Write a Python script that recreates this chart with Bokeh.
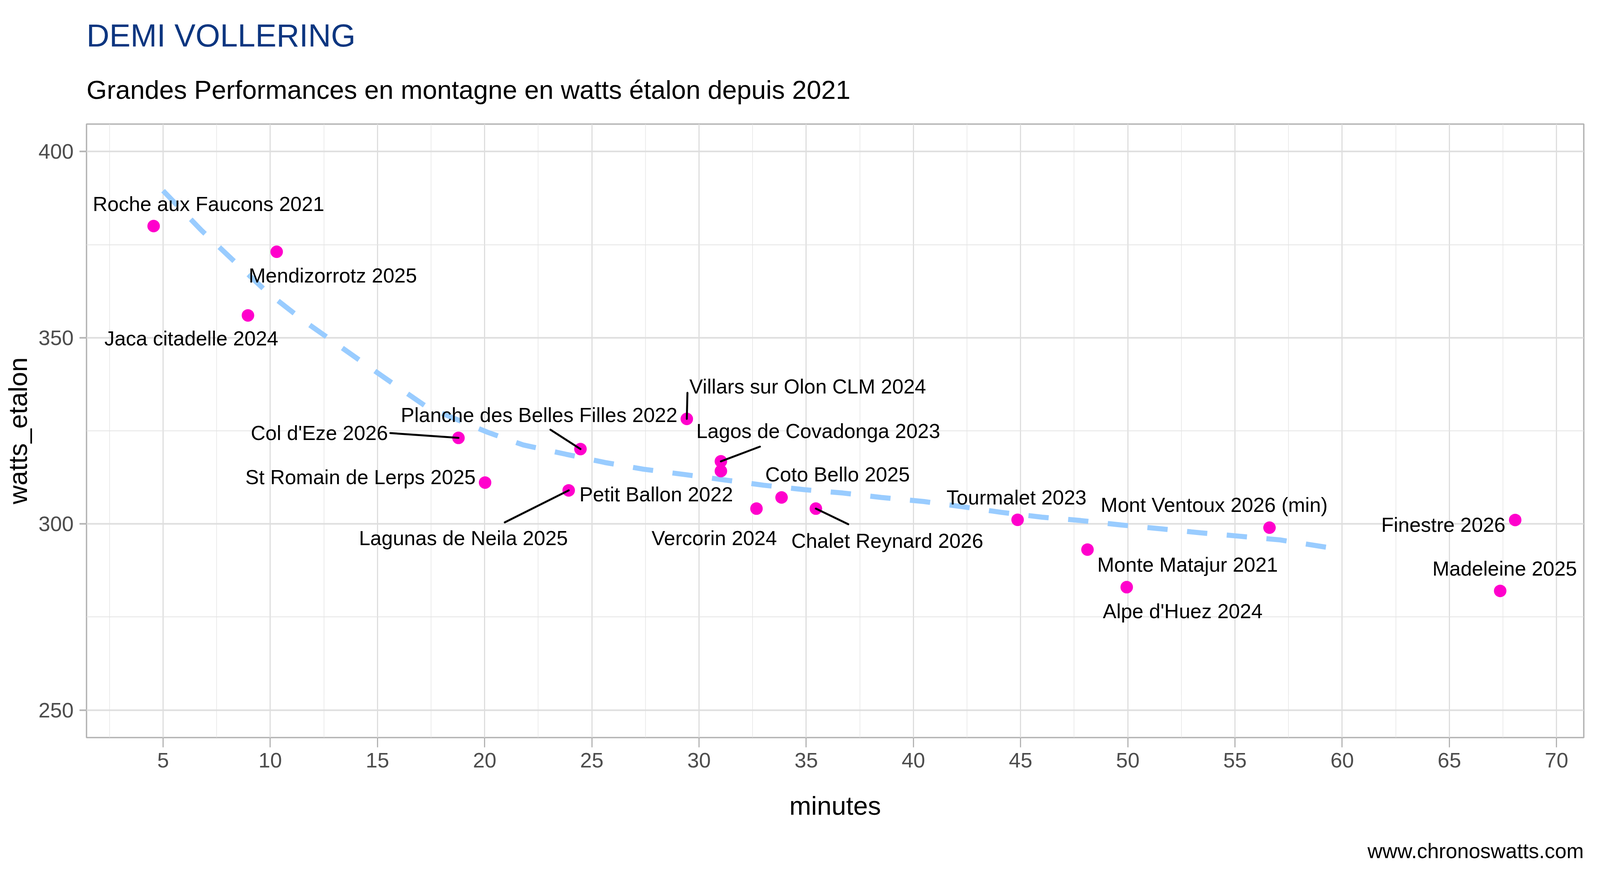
from bokeh.plotting import figure
from bokeh.models import Range1d, FixedTicker, Title, ColumnDataSource
from bokeh.core.properties import value
from bokeh.embed import file_html
from bokeh.resources import INLINE

FONT = "Liberation Sans"

# ---- data ----
names = ["Roche aux Faucons 2021", "Mendizorrotz 2025", "Jaca citadelle 2024",
         "Col d'Eze 2026", "St Romain de Lerps 2025", "Planche des Belles Filles 2022",
         "Lagunas de Neila 2025", "Villars sur Olon CLM 2024", "Lagos de Covadonga 2023",
         "Petit Ballon 2022", "Vercorin 2024", "Coto Bello 2025", "Chalet Reynard 2026",
         "Tourmalet 2023", "Monte Matajur 2021", "Alpe d'Huez 2024",
         "Mont Ventoux 2026 (min)", "Finestre 2026", "Madeleine 2025"]
minutes = [4.56, 10.30, 8.96, 18.78, 20.02, 24.47, 23.92, 29.43, 31.02, 31.02,
           32.68, 33.85, 35.45, 44.86, 48.12, 49.95, 56.61, 68.07, 67.37]
watts = [380.0, 373.1, 356.0, 323.1, 311.1, 320.1, 309.0, 328.2, 316.8, 314.2,
         304.1, 307.1, 304.1, 301.1, 293.1, 283.0, 299.0, 301.05, 282.0]

# repelled label positions (data units)
label_x = [7.12, 12.92, 6.32, 12.29, 14.21, 22.54, 19.01, 35.07, 35.56, 28.0,
           30.71, 36.46, 38.78, 44.81, 52.79, 52.56, 54.03, 64.72, 67.58]
label_y = [385.95, 366.7, 349.8, 324.4, 312.6, 329.3, 296.2, 336.95, 324.9, 307.9,
           296.2, 313.3, 295.5, 307.1, 289.1, 276.6, 305.1, 299.8, 288.05]
# leader segment ends on the label side (None = no segment)
seg_x = [None, None, None, 15.60, None, 23.07, 20.94, 29.46, 32.84, None,
         None, None, 36.96, None, None, None, None, None, None]
seg_y = [None, None, None, 324.4, None, 325.3, 300.4, 335.2, 320.75, None,
         None, None, 299.9, None, None, None, None, None, None]

# dashed trend curve, read along its length
trend_x = [5.0, 6.8, 8.4, 9.9, 11.6, 14.9, 17.3, 20.1, 21.8, 23.8, 25.6, 27.4,
           29.4, 31.2, 33.0, 34.9, 36.7, 38.5, 40.5, 42.3, 44.1, 46.0, 47.8,
           49.7, 51.5, 53.4, 55.2, 57.1, 59.4]
trend_y = [389.5, 378.8, 370.1, 362.0, 354.4, 341.0, 331.4, 324.7, 321.2, 318.7,
           316.5, 314.7, 313.2, 311.8, 310.4, 309.2, 308.3, 307.1, 306.0, 304.6,
           303.1, 301.8, 300.9, 299.7, 298.7, 297.6, 296.7, 295.7, 293.6]

x_ticks = [5, 10, 15, 20, 25, 30, 35, 40, 45, 50, 55, 60, 65, 70]
y_ticks = [250, 300, 350, 400]

title_text = "DEMI VOLLERING"
subtitle_text = "Grandes Performances en montagne en watts étalon depuis 2021"
caption_text = "www.chronoswatts.com"
x_title = "minutes"
y_title = "watts_etalon"

# ---- layout ----
W, H = 4080, 2259
BL, BT = 221, 317
FW, FH = 3833, 1570
BR = W - BL - FW
BB = H - BT - FH

x0, x1 = 1.43, 71.27
y0, y1 = 242.6, 407.4

p = figure(width=W, height=H, output_backend="svg", toolbar_location=None,
           x_range=Range1d(x0, x1), y_range=Range1d(y0, y1),
           min_border_left=BL, min_border_right=BR,
           min_border_top=BT, min_border_bottom=BB)
p.background_fill_color = "white"
p.border_fill_color = "white"
p.outline_line_color = "#B3B3B3"
p.outline_line_width = 3.5

x_minor = [t - 2.5 for t in x_ticks]
y_minor = [t - 25 for t in y_ticks[1:]]
p.xaxis.ticker = FixedTicker(ticks=x_ticks, minor_ticks=x_minor)
p.yaxis.ticker = FixedTicker(ticks=y_ticks, minor_ticks=y_minor)

p.xgrid.grid_line_color = "#DEDEDE"
p.xgrid.grid_line_width = 3
p.xgrid.minor_grid_line_color = "#E4E4E4"
p.xgrid.minor_grid_line_width = 1.5
p.ygrid.grid_line_color = "#DEDEDE"
p.ygrid.grid_line_width = 4
p.ygrid.minor_grid_line_color = "#E4E4E4"
p.ygrid.minor_grid_line_width = 2

for ax in (p.xaxis, p.yaxis):
    ax.axis_line_color = None
    ax.major_tick_line_color = "#B3B3B3"
    ax.major_tick_in = 0
    ax.minor_tick_line_color = None
    ax.major_label_text_font = FONT
    ax.major_label_text_font_size = "54px"
    ax.major_label_text_color = "#4D4D4D"
    ax.axis_label_text_font = FONT
    ax.axis_label_text_font_size = "67px"
    ax.axis_label_text_font_style = "normal"
    ax.axis_label_text_color = "black"

p.xaxis.major_tick_out = 25
p.xaxis.major_tick_line_width = 3
p.yaxis.major_tick_out = 18
p.yaxis.major_tick_line_width = 4
p.xaxis.axis_label = x_title
p.yaxis.axis_label = y_title
p.xaxis.major_label_standoff = 14
p.yaxis.major_label_standoff = 15
p.xaxis.axis_label_standoff = 57
p.yaxis.axis_label_standoff = 12

# trend
p.line(trend_x, trend_y, line_color="#99CCFF", line_width=13, line_dash="52 50")

# points
p.scatter(minutes, watts, size=32, fill_color="#FF00CC", line_color="#FF00CC", line_width=0)

# leader segments
sx0, sy0, sx1, sy1 = [], [], [], []
for mx, wy, a, b in zip(minutes, watts, seg_x, seg_y):
    if a is not None:
        sx0.append(a); sy0.append(b); sx1.append(mx); sy1.append(wy)
p.segment(sx0, sy0, sx1, sy1, line_color="black", line_width=5, line_cap="round")

# labels
src = ColumnDataSource(dict(x=label_x, y=label_y, t=names))
p.text(x="x", y="y", text="t", source=src, text_font=value(FONT),
       text_font_size="52px", text_align="center", text_baseline="middle",
       text_color="black")

# subtitle (closest to the frame) then title, caption below
p.add_layout(Title(text=subtitle_text, text_font=FONT, text_font_size="67px",
                   text_font_style="normal", text_color="black", align="left",
                   vertical_align="bottom", standoff=102), "above")
p.add_layout(Title(text=title_text, text_font=FONT, text_font_size="81px",
                   text_font_style="normal", text_color="#0D3680", align="left",
                   vertical_align="bottom", standoff=6), "above")
p.add_layout(Title(text=caption_text, text_font=FONT, text_font_size="53px",
                   text_font_style="normal", text_color="black", align="right",
                   vertical_align="top", standoff=92), "below")

open("out.html", "w").write(file_html(p, INLINE))
